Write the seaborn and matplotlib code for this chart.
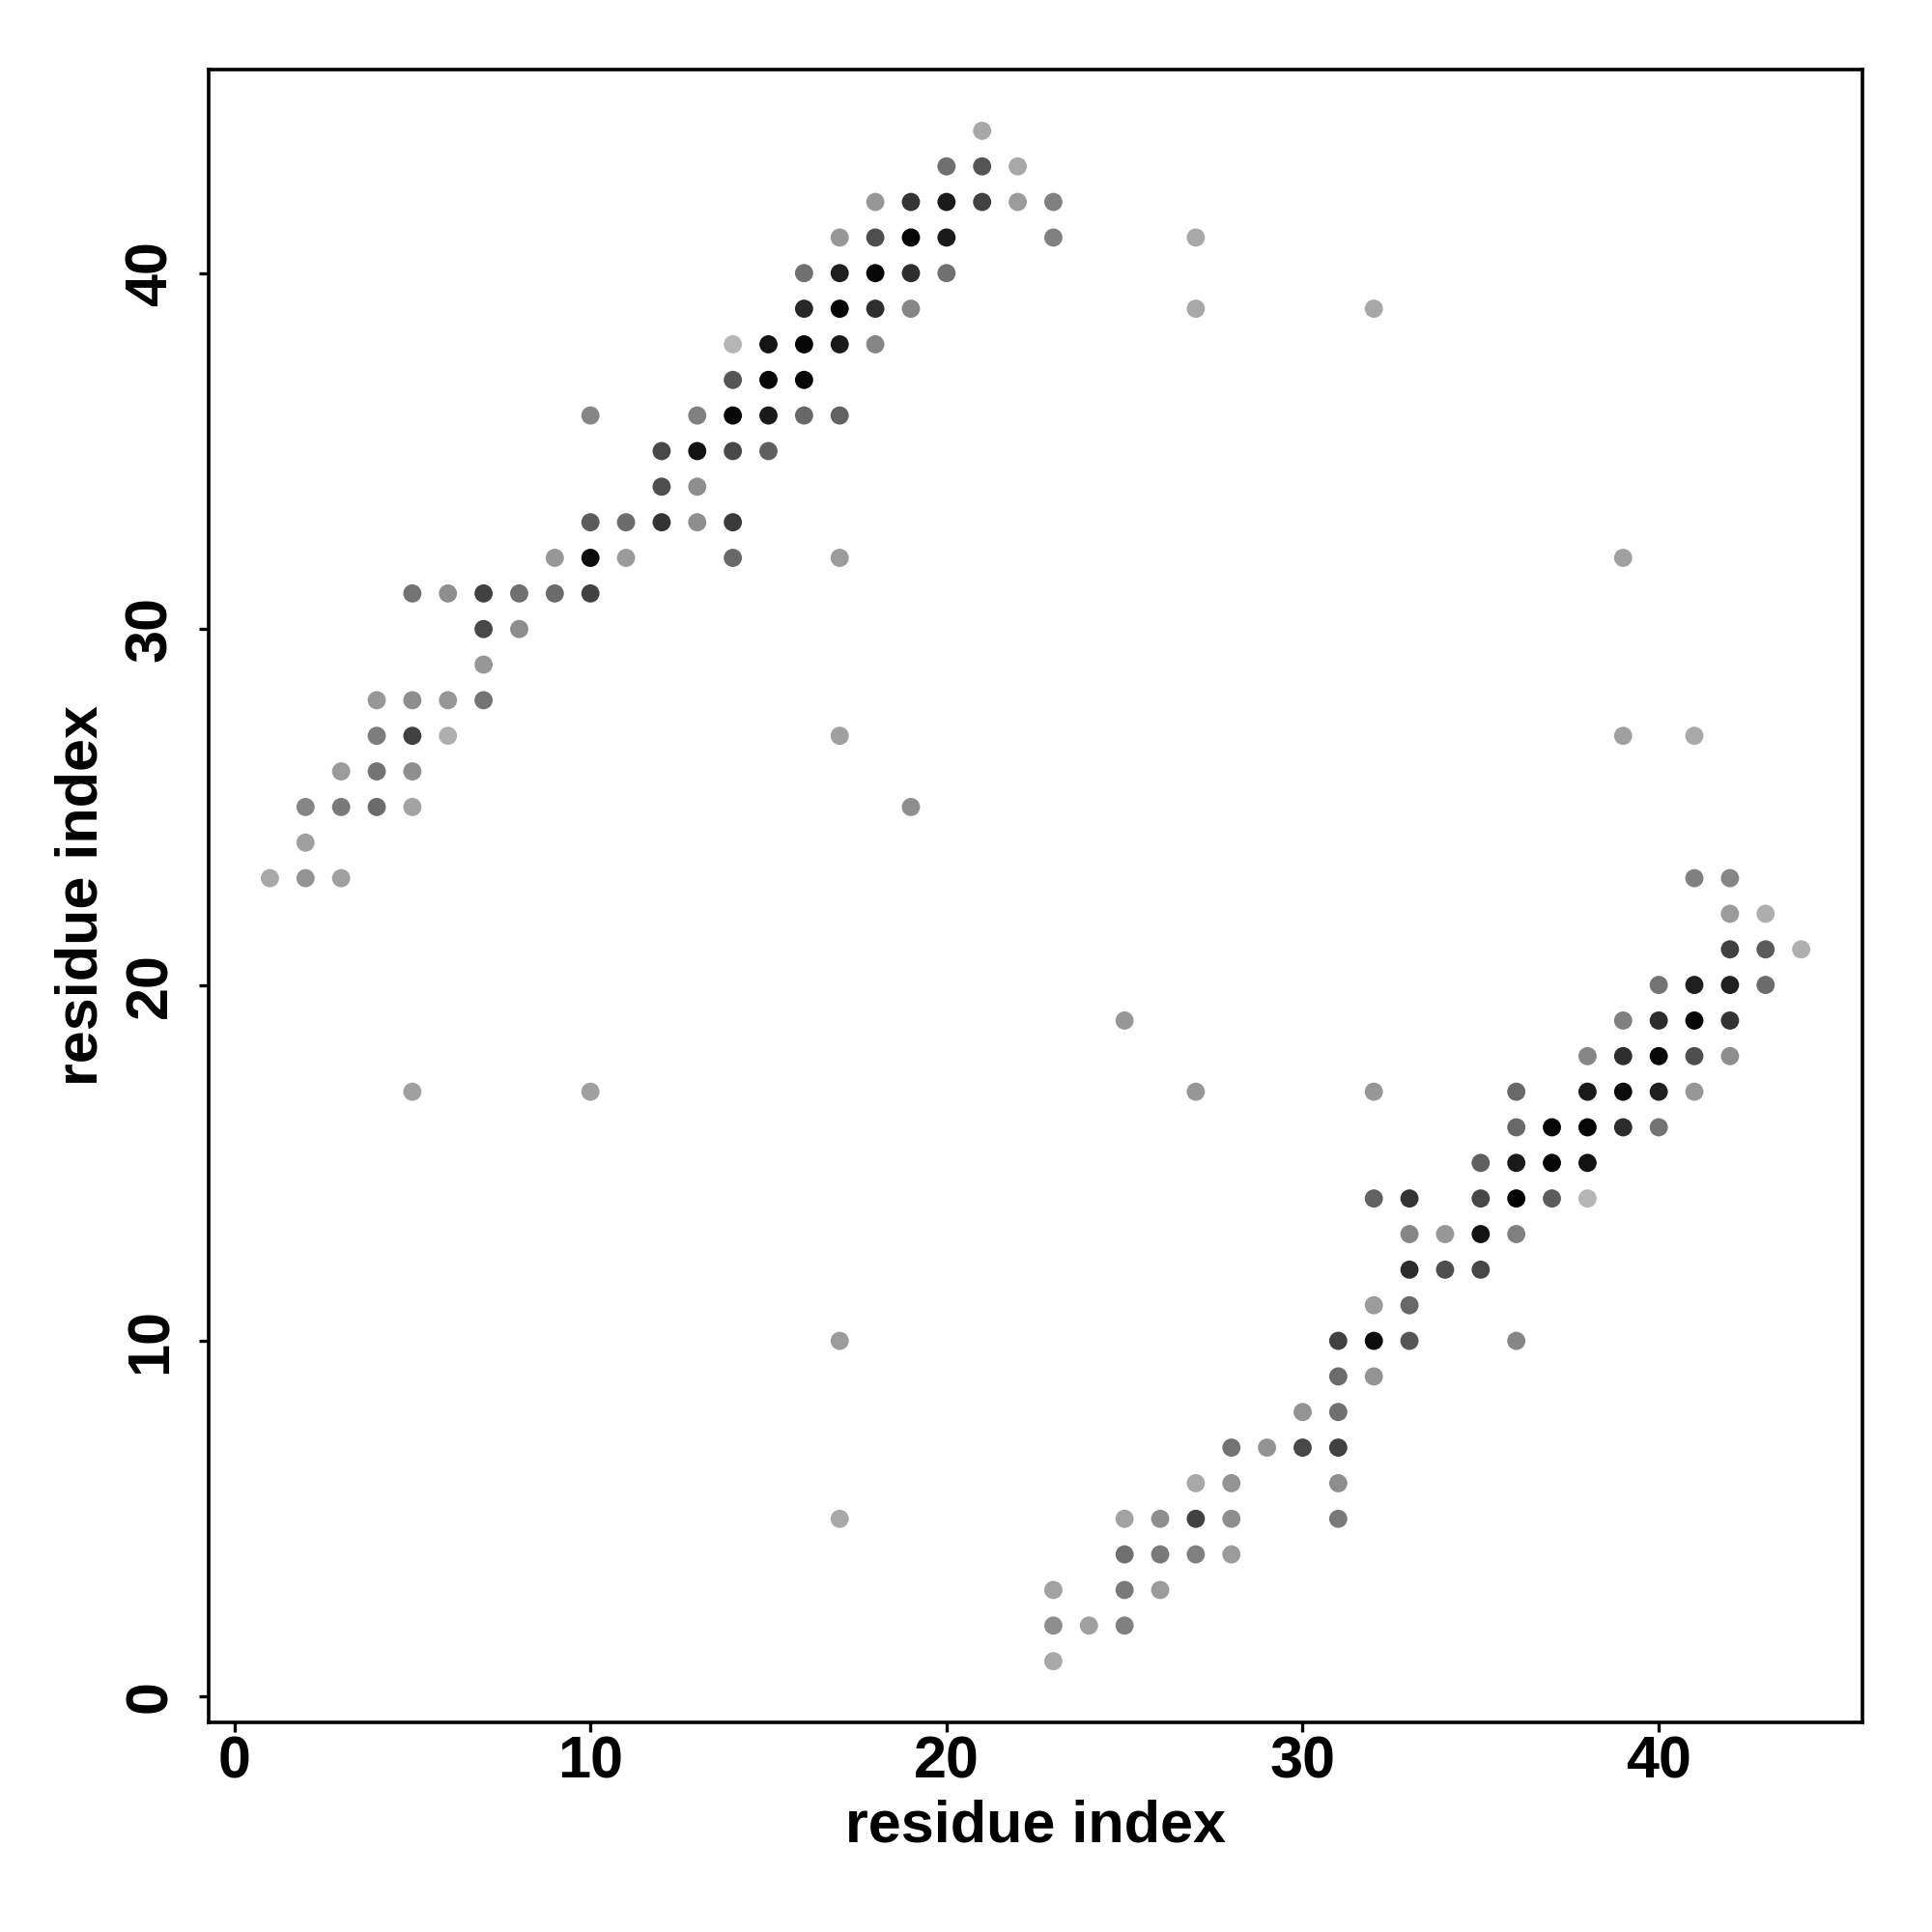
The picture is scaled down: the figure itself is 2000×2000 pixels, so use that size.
import matplotlib
matplotlib.use("Agg")
import matplotlib.pyplot as plt
from matplotlib.colors import LinearSegmentedColormap
import seaborn as sns
import pandas as pd

# residue pairs (i, j) and contact strength (0 = weak/light, 1 = strong/black)
res_i = [
    1,
    2, 2, 2,
    3, 3, 3,
    4, 4, 4, 4,
    5, 5, 5, 5, 5, 5,
    6, 6, 6,
    7, 7, 7, 7,
    8, 8,
    9, 9,
    10, 10, 10, 10, 10,
    11, 11,
    12, 12, 12,
    13, 13, 13, 13,
    14, 14, 14, 14, 14, 14,
    15, 15, 15, 15,
    16, 16, 16, 16, 16,
    17, 17, 17, 17, 17, 17, 17, 17, 17,
    18, 18, 18, 18, 18,
    19, 19, 19, 19, 19,
    20, 20, 20, 20,
    21, 21, 21,
    22, 22,
    23, 23, 23, 23, 23,
    24,
    25, 25, 25, 25, 25,
    26, 26, 26,
    27, 27, 27, 27, 27, 27,
    28, 28, 28, 28,
    29,
    30, 30,
    31, 31, 31, 31, 31, 31,
    32, 32, 32, 32, 32, 32,
    33, 33, 33, 33, 33,
    34, 34,
    35, 35, 35, 35,
    36, 36, 36, 36, 36, 36,
    37, 37, 37,
    38, 38, 38, 38, 38,
    39, 39, 39, 39, 39, 39,
    40, 40, 40, 40, 40,
    41, 41, 41, 41, 41, 41,
    42, 42, 42, 42, 42, 42,
    43, 43, 43,
    44,
]
res_j = [
    23,
    25, 24, 23,
    26, 25, 23,
    28, 27, 26, 25,
    31, 28, 27, 26, 25, 17,
    31, 28, 27,
    31, 30, 29, 28,
    31, 30,
    32, 31,
    36, 33, 32, 31, 17,
    33, 32,
    35, 34, 33,
    36, 35, 34, 33,
    38, 37, 36, 35, 33, 32,
    38, 37, 36, 35,
    40, 39, 38, 37, 36,
    41, 40, 39, 38, 36, 32, 27, 10, 5,
    42, 41, 40, 39, 38,
    42, 41, 40, 39, 25,
    43, 42, 41, 40,
    44, 43, 42,
    43, 42,
    42, 41, 3, 2, 1,
    2,
    19, 5, 4, 3, 2,
    5, 4, 3,
    41, 39, 17, 6, 5, 4,
    7, 6, 5, 4,
    7,
    8, 7,
    10, 9, 8, 7, 6, 5,
    39, 17, 14, 11, 10, 9,
    14, 13, 12, 11, 10,
    13, 12,
    15, 14, 13, 12,
    17, 16, 15, 14, 13, 10,
    16, 15, 14,
    18, 17, 16, 15, 14,
    32, 27, 19, 18, 17, 16,
    20, 19, 18, 17, 16,
    27, 23, 20, 19, 18, 17,
    23, 22, 21, 20, 19, 18,
    22, 21, 20,
    21,
]
strength = [
    0.10,
    0.28, 0.14, 0.21,
    0.17, 0.35, 0.14,
    0.19, 0.33, 0.38, 0.42,
    0.38, 0.24, 0.65, 0.24, 0.13, 0.14,
    0.24, 0.19, 0.06,
    0.65, 0.62, 0.19, 0.38,
    0.40, 0.24,
    0.19, 0.42,
    0.28, 0.51, 0.93, 0.65, 0.14,
    0.42, 0.17,
    0.61, 0.58, 0.72,
    0.31, 0.90, 0.24, 0.24,
    0.03, 0.54, 0.97, 0.61, 0.69, 0.44,
    0.89, 0.97, 0.86, 0.49,
    0.40, 0.79, 0.97, 0.97, 0.44,
    0.19, 0.83, 0.96, 0.86, 0.47, 0.17, 0.14, 0.17, 0.10,
    0.19, 0.58, 0.96, 0.75, 0.28,
    0.72, 0.97, 0.75, 0.28, 0.24,
    0.40, 0.86, 0.86, 0.40,
    0.10, 0.54, 0.65,
    0.10, 0.17,
    0.31, 0.31, 0.13, 0.24, 0.10,
    0.14,
    0.19, 0.13, 0.40, 0.35, 0.31,
    0.24, 0.35, 0.17,
    0.10, 0.10, 0.19, 0.10, 0.65, 0.31,
    0.38, 0.21, 0.24, 0.17,
    0.21,
    0.21, 0.62,
    0.65, 0.42, 0.40, 0.65, 0.24, 0.35,
    0.10, 0.19, 0.47, 0.17, 0.93, 0.21,
    0.72, 0.28, 0.76, 0.44, 0.54,
    0.19, 0.58,
    0.49, 0.62, 0.90, 0.62,
    0.44, 0.44, 0.86, 1.00, 0.31, 0.28,
    0.97, 0.97, 0.51,
    0.28, 0.86, 0.97, 0.90, 0.03,
    0.14, 0.14, 0.31, 0.75, 0.94, 0.76,
    0.38, 0.76, 0.96, 0.83, 0.38,
    0.10, 0.31, 0.83, 0.97, 0.58, 0.19,
    0.28, 0.17, 0.65, 0.83, 0.72, 0.24,
    0.07, 0.51, 0.42,
    0.06,
]

df = pd.DataFrame({"i": res_i, "j": res_j, "strength": strength})

sns.set_theme(style="white")
plt.rcParams["font.family"] = ["Liberation Sans", "DejaVu Sans"]
plt.rcParams["font.weight"] = "bold"
plt.rcParams["text.color"] = "black"
plt.rcParams["axes.labelcolor"] = "black"
plt.rcParams["xtick.color"] = "black"
plt.rcParams["ytick.color"] = "black"

fig = plt.figure(figsize=(10, 10), dpi=200)
ax = fig.add_axes([0.108, 0.1085, 0.856, 0.8555])

cmap = LinearSegmentedColormap.from_list("grey_contact", ["#bababa", "#000000"])
sns.scatterplot(data=df, x="i", y="j", hue="strength", palette=cmap,
                hue_norm=(0, 1), s=46, linewidth=0, legend=False, ax=ax)

ax.set_xlim(-0.72, 45.72)
ax.set_ylim(-0.72, 45.72)
ax.set_xticks([0, 10, 20, 30, 40])
ax.set_yticks([0, 10, 20, 30, 40])
ax.set_xticklabels(["0", "10", "20", "30", "40"], fontsize=22, fontweight="bold",
                   color="black")
ax.set_yticklabels(["0", "10", "20", "30", "40"], fontsize=22, fontweight="bold",
                   rotation=90, va="center", color="black")
ax.tick_params(axis="both", direction="out", length=3.5, width=1.2, color="black",
               bottom=True, left=True)
ax.tick_params(axis="x", pad=1.5)
ax.tick_params(axis="y", pad=7.5)
for sp in ax.spines.values():
    sp.set_visible(True)
    sp.set_color("black")
    sp.set_linewidth(1.3)
ax.set_xlabel("residue index", fontsize=22, fontweight="bold", labelpad=3,
              color="black")
ax.set_ylabel("residue index", fontsize=22, fontweight="bold", labelpad=5.5,
              color="black")
ax.grid(False)

fig.savefig("out.png", dpi=200, facecolor="white")
